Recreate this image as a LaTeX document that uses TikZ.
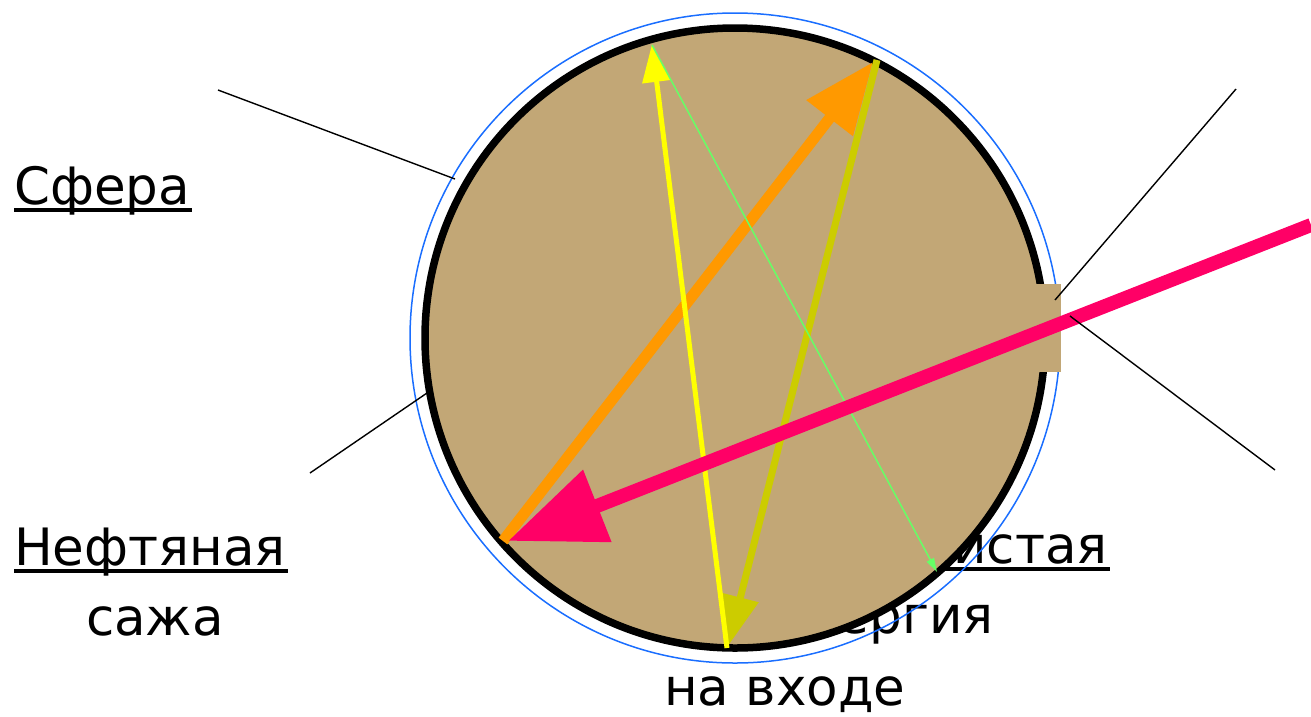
\documentclass[tikz,border=0pt]{standalone}
\usepackage{fontspec}
\setmainfont{DejaVu Sans}
\usetikzlibrary{arrows.meta}
\definecolor{tan}{HTML}{C2A776}
\definecolor{pinkray}{HTML}{FF0066}
\definecolor{orangeray}{HTML}{FF9900}
\definecolor{oliveray}{HTML}{CCCC00}
\definecolor{yellowray}{HTML}{FFFF00}
\definecolor{greenray}{HTML}{66FF66}
\definecolor{bluering}{HTML}{1A6EFF}
\begin{document}
\begin{tikzpicture}[x=1pt,y=-1pt,
  lbl/.style={inner sep=0pt,font=\fontsize{51.5}{60}\selectfont},
  uline/.style={line width=4pt},
  leader/.style={line width=1.4pt,black},
]
\useasboundingbox (0,0) rectangle (1311,716);
% labels behind the sphere
\node[lbl,anchor=base east] (chist) at (1108,563) {Чистая};
\node[lbl,anchor=base east] (energ) at (994,633) {энергия};
\node[lbl,anchor=base west] (vhod) at (664,705) {на входе};
\draw[uline] ([yshift=-6pt]chist.base west) -- ([yshift=-6pt,xshift=2pt]chist.base east);
% left labels
\node[lbl,anchor=base west] (sfera) at (14,204) {Сфера};
\draw[uline] ([yshift=-6pt]sfera.base west) -- ([yshift=-6pt,xshift=2pt]sfera.base east);
\node[lbl,anchor=base west] (neft) at (14,565) {Нефтяная};
\draw[uline] ([yshift=-6pt]neft.base west) -- ([yshift=-6pt,xshift=2pt]neft.base east);
\node[lbl,anchor=base] (sazha) at (155,635) {сажа};
% sphere
\coordinate (c) at (735,338);
\draw[bluering,line width=1.5pt] (c) circle[radius=325];
\draw[fill=tan,line width=7.5pt] (c) circle[radius=310];
\fill[tan] (1036,284) rectangle (1061,372);
% rays
\coordinate (pA) at (1311,225);
\coordinate (pB) at (508,541);
\coordinate (oA) at (503,541);
\coordinate (oB) at (873,62);
\coordinate (yA) at (877,60);
\coordinate (yB) at (728,646);
\coordinate (wA) at (727,648);
\coordinate (wB) at (652,44);
\coordinate (gA) at (652,45);
\coordinate (gB) at (937,572);
\draw[orangeray,line width=11pt,-{Triangle[length=71pt,width=56pt]}] (oA) -- (oB);
\draw[oliveray,line width=7pt,-{Triangle[length=50pt,width=36pt]}] (yA) -- (yB);
\draw[yellowray,line width=5pt,-{Triangle[length=38pt,width=28pt]}] (wA) -- (wB);
\draw[greenray,line width=1.5pt,-{Triangle[length=14pt,width=8pt]}] (gA) -- (gB);
\draw[pinkray,line width=14pt,-{Triangle[length=96pt,width=74pt]}] (pA) -- (pB);
% leader lines
\coordinate (l1a) at (218,90);  \coordinate (l1b) at (455,179);
\coordinate (l2a) at (310,473); \coordinate (l2b) at (427,393);
\coordinate (l3a) at (1236,89); \coordinate (l3b) at (1055,300);
\coordinate (l4a) at (1070,316);\coordinate (l4b) at (1275,470);
\draw[leader] (l1a) -- (l1b);
\draw[leader] (l2a) -- (l2b);
\draw[leader] (l3a) -- (l3b);
\draw[leader] (l4a) -- (l4b);
\end{tikzpicture}
\end{document}
